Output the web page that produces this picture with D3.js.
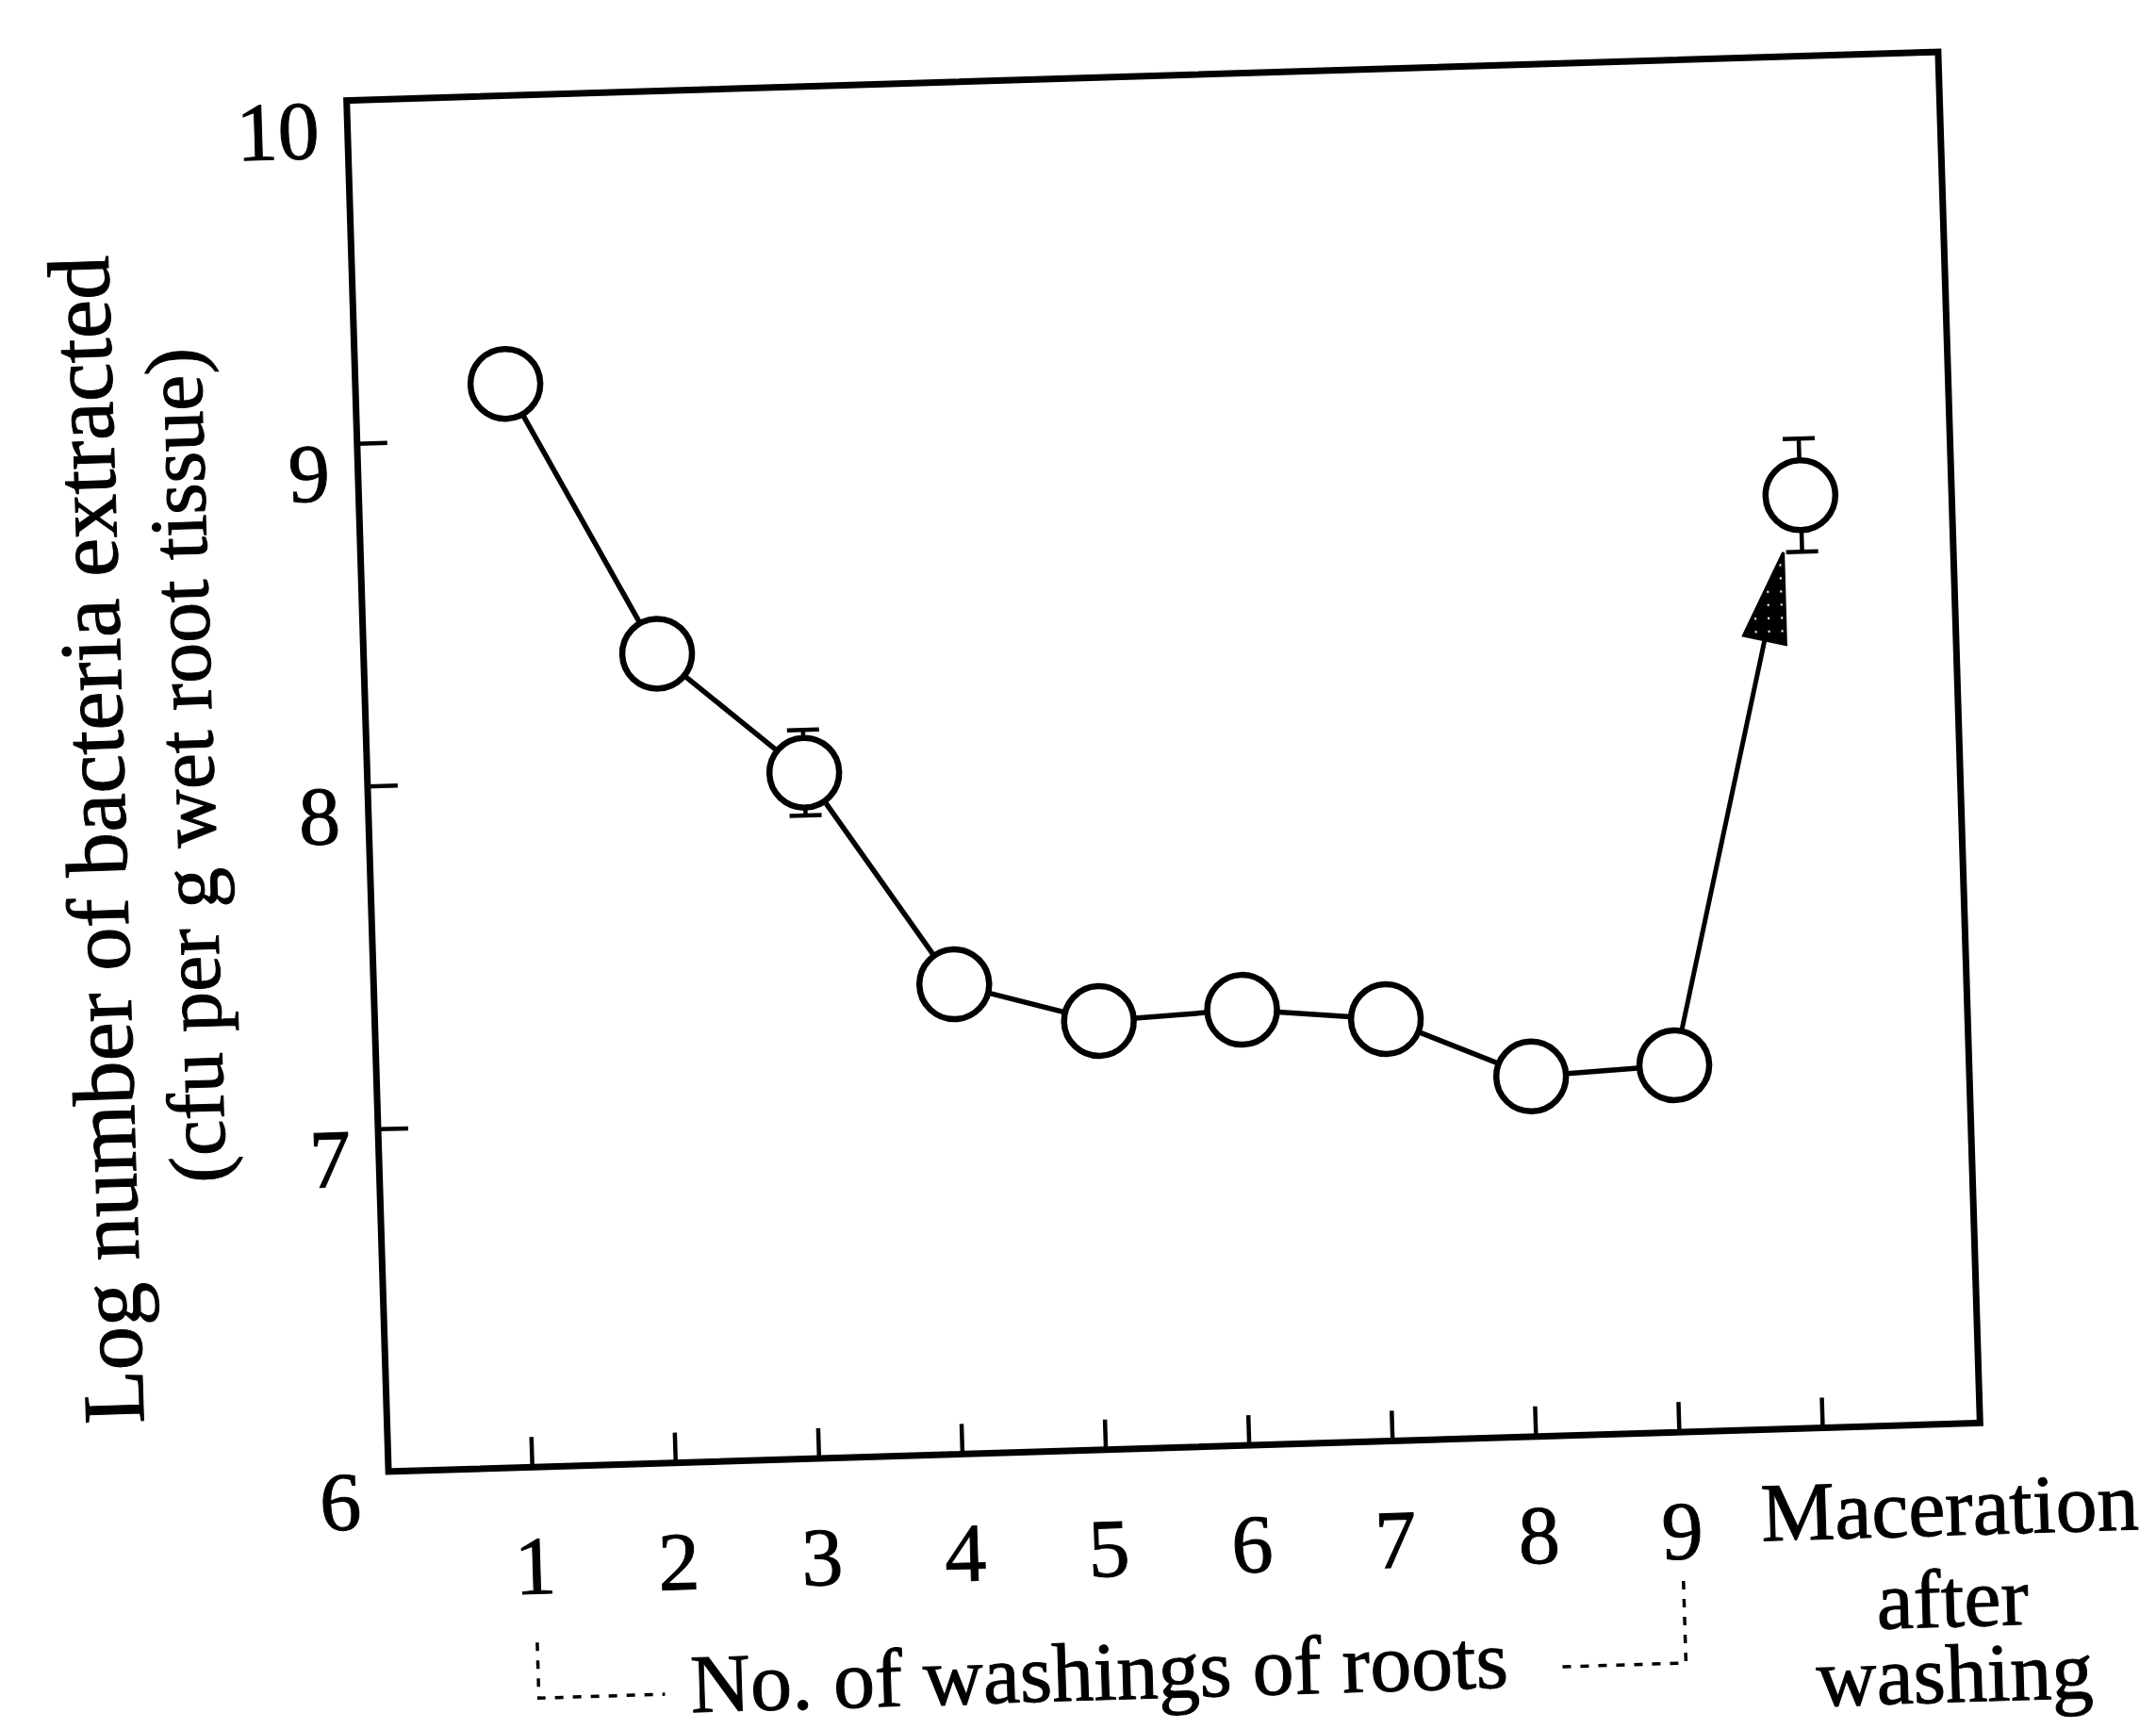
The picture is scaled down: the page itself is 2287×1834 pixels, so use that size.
<!DOCTYPE html>
<html>
<head>
<meta charset="utf-8">
<script src="https://cdn.jsdelivr.net/npm/d3@7"></script>
<style>
  body { margin: 0; background: #fff; }
  text { font-family: "Liberation Serif", "Times New Roman", serif; fill: #000; stroke: #000; stroke-width: 1; }
</style>
</head>
<body>
<script>
// washing number (10 = maceration after washing)
const washings = [1, 2, 3, 4, 5, 6, 7, 8, 9, 10];
const xTickLabels = ["1", "2", "3", "4", "5", "6", "7", "8", "9", ""];
const logCounts = [9.16, 8.36, 8.00, 7.37, 7.25, 7.27, 7.23, 7.05, 7.07, 8.72];
const errors = [0, 0, 0.125, 0, 0, 0, 0, 0, 0, 0.165];
const yTicks = [6, 7, 8, 9, 10];
const macLabel = ["Maceration", "after", "washing"];
const yTitle = ["Log number of bacteria extracted", "(cfu per g wet root tissue)"];
const xTitle = "No. of washings of roots";

const width = 2287;
const height = 1834;
const serif = "Liberation Serif, Times New Roman, serif";
// plot box (the scanned figure is slightly tilted)
const boxW = 1689, boxH = 1455;
const cx = 1234, cy = 808;
const tilt = -1.75;

const svg = d3.select("body")
    .append("svg")
    .attr("width", width)
    .attr("height", height);

svg.append("rect").attr("width", width).attr("height", height).attr("fill", "#fff");

// stippled fill for arrowhead
const pat = svg.append("defs").append("pattern")
    .attr("id", "stipple")
    .attr("patternUnits", "userSpaceOnUse")
    .attr("width", 14).attr("height", 14);
pat.append("rect").attr("width", 14).attr("height", 14).attr("fill", "#000");
pat.append("circle").attr("cx", 7).attr("cy", 7).attr("r", 1.2).attr("fill", "#fff");

const g = svg.append("g")
    .attr("transform", `rotate(${tilt},${cx},${cy}) translate(${cx - boxW / 2},${cy - boxH / 2})`);

const x = d3.scaleLinear().domain([0, 11.1]).range([0, boxW]);
// points sit a few px right of their ticks in the original
const xp = x.copy().range([7, boxW + 7]);
const y = d3.scaleLinear().domain([6, 10]).range([boxH, 0]);

// x axis ticks (inward) + numeric labels
const xAxis = g.append("g")
    .attr("transform", `translate(0,${boxH})`)
    .call(d3.axisBottom(x)
        .tickValues(washings)
        .tickSize(-32)
        .tickPadding(72)
        .tickFormat((d, i) => xTickLabels[i]));
xAxis.select(".domain").remove();
xAxis.selectAll("line").attr("stroke", "#000").attr("stroke-width", 4.5);
xAxis.selectAll("text")
    .attr("font-size", 88)
    .attr("font-family", serif);

// y axis
const yAxis = g.append("g")
    .call(d3.axisLeft(y)
        .tickValues(yTicks)
        .tickSize(-32)
        .tickPadding(30)
        .tickFormat(d3.format("d")));
yAxis.select(".domain").remove();
yAxis.selectAll("line").attr("stroke", "#000").attr("stroke-width", 4.5);
yAxis.selectAll("text")
    .attr("dy", "0.68em")
    .attr("font-size", 88)
    .attr("font-family", serif);

// frame
g.append("rect")
    .attr("width", boxW)
    .attr("height", boxH)
    .attr("fill", "none")
    .attr("stroke", "#000")
    .attr("stroke-width", 7);

// y title (two lines)
const titlePos = [[-258, 776, 93], [-163, 700, 86]];
yTitle.forEach((t, i) => {
    g.append("text")
        .attr("transform", `translate(${titlePos[i][0]},${titlePos[i][1]}) rotate(-90)`)
        .attr("text-anchor", "middle")
        .attr("font-family", serif)
        .attr("font-size", titlePos[i][2])
        .text(t);
});

// maceration label
macLabel.forEach((t, i) => {
    g.append("text")
        .attr("x", 1654)
        .attr("y", boxH + [118, 215, 295][i])
        .attr("text-anchor", "middle")
        .attr("font-family", serif)
        .attr("font-size", 88)
        .text(t);
});

// bracket + x title
const bracketY = boxH + 245;
g.append("path")
    .attr("d", `M${x(1)},${boxH + 186}V${bracketY}H286`)
    .attr("fill", "none").attr("stroke", "#000")
    .attr("stroke-width", 3.5).attr("stroke-dasharray", "9,10");
g.append("path")
    .attr("d", `M${x(9)},${boxH + 158}V${bracketY}H1233`)
    .attr("fill", "none").attr("stroke", "#000")
    .attr("stroke-width", 3.5).attr("stroke-dasharray", "9,10");
g.append("text")
    .attr("x", 747)
    .attr("y", boxH + 265)
    .attr("text-anchor", "middle")
    .attr("font-family", serif)
    .attr("font-size", 88)
    .text(xTitle);

const pts = washings.map((w, i) => ({ w, v: logCounts[i], e: errors[i] }));
const washPts = pts.slice(0, 9);
const mac = pts[9];
const last = pts[8];

// connecting line for washings
g.append("path")
    .datum(washPts)
    .attr("d", d3.line().x(d => xp(d.w)).y(d => y(d.v)))
    .attr("fill", "none")
    .attr("stroke", "#000")
    .attr("stroke-width", 5.5);

// arrow from wash 9 to maceration
const tip = [xp(mac.w) - 20, y(mac.v - mac.e)];
const from = [xp(last.w), y(last.v)];
const dxA = tip[0] - from[0], dyA = tip[1] - from[1];
const len = Math.hypot(dxA, dyA);
const ux = dxA / len, uy = dyA / len;
const headL = 95, headW = 23;
const base = [tip[0] - ux * headL, tip[1] - uy * headL];
g.append("line")
    .attr("x1", from[0]).attr("y1", from[1])
    .attr("x2", base[0] + ux * 10).attr("y2", base[1] + uy * 10)
    .attr("stroke", "#000").attr("stroke-width", 5);
g.append("path")
    .attr("d", d3.line()([
        tip,
        [base[0] - uy * headW, base[1] + ux * headW],
        [base[0] + uy * headW, base[1] - ux * headW]
    ]) + "Z")
    .attr("fill", "url(#stipple)")
    .attr("stroke", "#000")
    .attr("stroke-width", 3);

// error bars
const eb = g.append("g").selectAll("g")
    .data(pts.filter(d => d.e > 0))
    .join("g")
    .attr("stroke", "#000")
    .attr("stroke-width", 4.5);
eb.append("line")
    .attr("x1", d => xp(d.w)).attr("x2", d => xp(d.w))
    .attr("y1", d => y(d.v + d.e)).attr("y2", d => y(d.v - d.e));
eb.append("line")
    .attr("x1", d => xp(d.w) - 17).attr("x2", d => xp(d.w) + 17)
    .attr("y1", d => y(d.v + d.e)).attr("y2", d => y(d.v + d.e));
eb.append("line")
    .attr("x1", d => xp(d.w) - 17).attr("x2", d => xp(d.w) + 17)
    .attr("y1", d => y(d.v - d.e)).attr("y2", d => y(d.v - d.e));

// open circles
g.append("g").selectAll("circle")
    .data(pts)
    .join("circle")
    .attr("cx", d => xp(d.w))
    .attr("cy", d => y(d.v))
    .attr("r", 37)
    .attr("fill", "#fff")
    .attr("stroke", "#000")
    .attr("stroke-width", 6.5);
</script>
</body>
</html>
